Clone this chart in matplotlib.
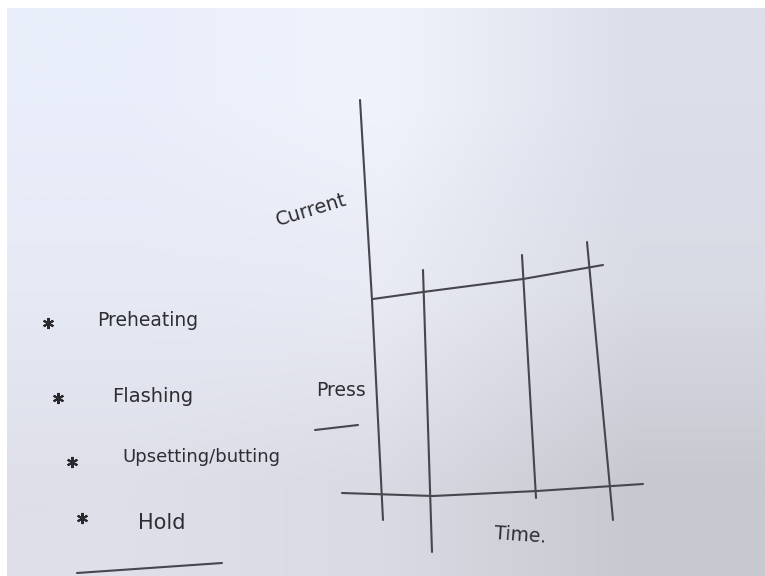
import numpy as np
import matplotlib
matplotlib.use("Agg")
import matplotlib.pyplot as plt
from matplotlib.colors import to_rgb

# ---- data (positions in the sketch's pixel space) ----
yaxis_x = [360, 372, 383]
yaxis_y = [100, 300, 520]
current_x = [373, 423, 523, 603]
current_y = [299, 292, 279, 265]
time_x = [342, 433, 537, 643]
time_y = [493, 496, 491, 484]
v2_x = [423, 432]; v2_y = [270, 552]
v3_x = [522, 536]; v3_y = [255, 498]
v4_x = [587, 613]; v4_y = [242, 520]
press_ul_x = [315, 358]; press_ul_y = [430, 425]
hold_ul_x = [77, 222]; hold_ul_y = [573, 563]

stages = ["Preheating", "Flashing", "Upsetting/butting", "Hold"]
stage_x = [148, 153, 201, 162]
stage_y = [320, 397, 457, 523]
stage_size = [13.5, 14, 13, 15]
star_x = [48, 58, 72, 82]
star_y = [323, 398, 462, 518]

labels = ["Current", "Press", "Time."]
label_x = [311, 341, 520]
label_y = [210, 390, 535]
label_rot = [17, 0, -4]
label_size = [14, 13.5, 13.5]

fig = plt.figure(figsize=(7.65, 5.76), dpi=100)
fig.patch.set_facecolor("white")
ax = fig.add_axes([0, 0, 1, 1])
ax.set_xlim(0, 765)
ax.set_ylim(576, 0)
ax.axis("off")

# background whiteboard gradient
grid = [["#e9eefa", "#eff4fc", "#dcdfea"],
        ["#e6eaf5", "#e8eaf4", "#d8dae4"],
        ["#dedfe9", "#dadae4", "#c8c8d0"]]
img = np.array([[to_rgb(c) for c in row] for row in grid])
ax.imshow(img, extent=(7, 765, 576, 8), interpolation="bilinear", aspect="auto", zorder=0)

ink = "#46464c"
lw = 1.5
for xs, ys in [(yaxis_x, yaxis_y), (current_x, current_y), (time_x, time_y),
               (v2_x, v2_y), (v3_x, v3_y), (v4_x, v4_y),
               (press_ul_x, press_ul_y), (hold_ul_x, hold_ul_y)]:
    ax.plot(xs, ys, color=ink, lw=lw, solid_capstyle="round", zorder=2)

ax.plot(star_x, star_y, linestyle="none", marker=(6, 2, 0), markersize=8,
        markeredgewidth=1.5, color="#2a2a2e", zorder=3)

for s, x, y, fs in zip(stages, stage_x, stage_y, stage_size):
    ax.text(x, y, s, ha="center", va="center", fontsize=fs, color="#2e2e32",
            family="DejaVu Sans", zorder=3)
for s, x, y, r, fs in zip(labels, label_x, label_y, label_rot, label_size):
    ax.text(x, y, s, ha="center", va="center", fontsize=fs, color="#2e2e32",
            rotation=r, family="DejaVu Sans", zorder=3)

fig.savefig("out.png", dpi=100)
